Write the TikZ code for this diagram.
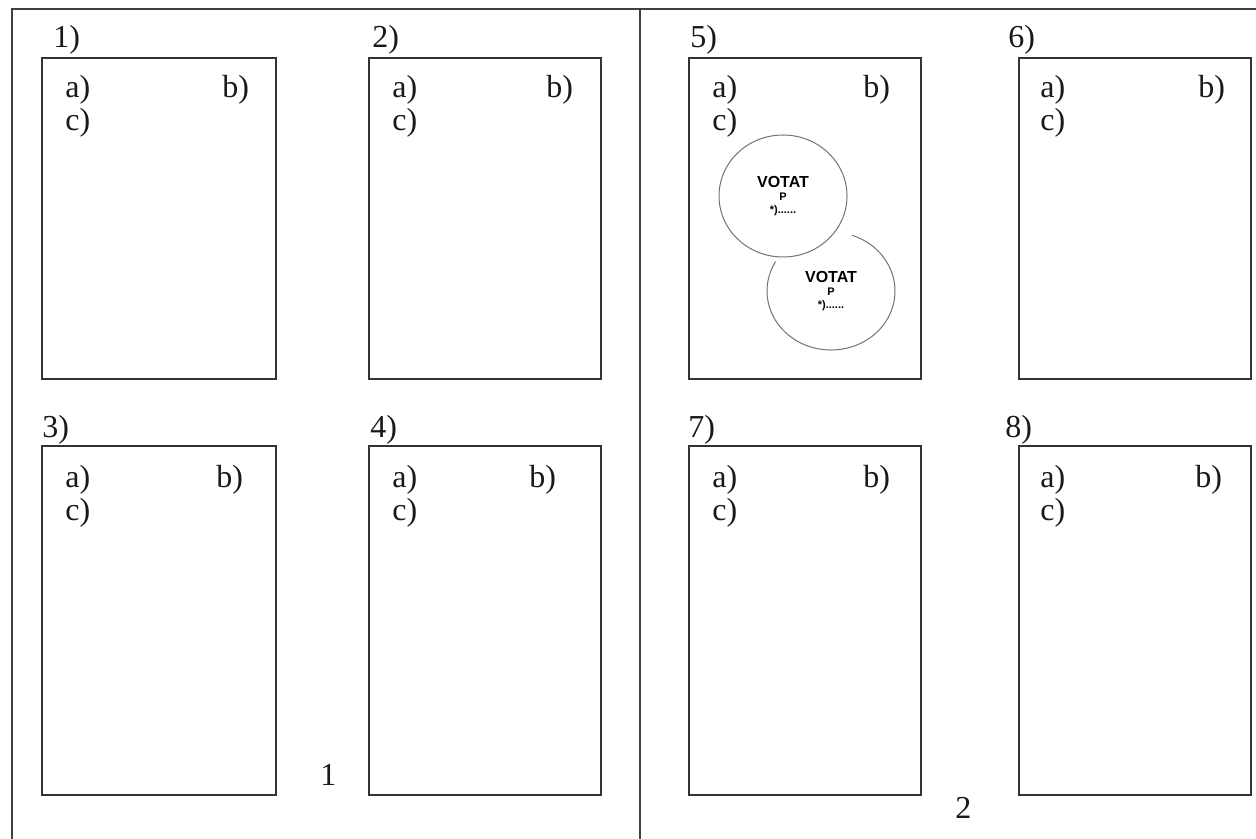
\documentclass[tikz,border=0pt]{standalone}
\usepackage{fontspec}
\setmainfont{Liberation Serif}
\newfontfamily\votfont{Liberation Sans}
\begin{document}
\begin{tikzpicture}[x=0.5pt,y=-0.5pt,
  frame/.style={line width=1pt,draw=black!75},
  panelbox/.style={line width=1pt,draw=black!80},
  lbl/.style={anchor=base west,inner sep=0pt,font=\fontsize{16}{16}\selectfont,text=black!90},
  ring/.style={draw=black!55,line width=0.5pt},
  vot/.style={inner sep=0pt,font=\votfont\bfseries\fontsize{8}{8}\selectfont},
  votsmall/.style={inner sep=0pt,font=\votfont\bfseries\fontsize{5.5}{5.5}\selectfont}]
\useasboundingbox (0,0) rectangle (1256,839);
% frame
\draw[frame] (12,839) -- (12,9) -- (1256,9);
\draw[frame] (640,9) -- (640,839);
% panel boxes
\draw[panelbox] (42,58) rectangle (276,379);
\draw[panelbox] (369,58) rectangle (601,379);
\draw[panelbox] (689,58) rectangle (921,379);
\draw[panelbox] (1019,58) rectangle (1251,379);
\draw[panelbox] (42,446) rectangle (276,795);
\draw[panelbox] (369,446) rectangle (601,795);
\draw[panelbox] (689,446) rectangle (921,795);
\draw[panelbox] (1019,446) rectangle (1251,795);
% numbers
\node[lbl] (n1) at (53,48) {1)};
\node[lbl] (n2) at (372,48) {2)};
\node[lbl] (n5) at (690,48) {5)};
\node[lbl] (n6) at (1008,48) {6)};
\node[lbl] (n3) at (42,437) {3)};
\node[lbl] (n4) at (370,437) {4)};
\node[lbl] (n7) at (688,437) {7)};
\node[lbl] (n8) at (1005,437) {8)};
% a) b) c)
\node[lbl] (a1) at (65,98) {a)};  \node[lbl] (b1) at (222,98) {b)};  \node[lbl] (c1) at (65,131) {c)};
\node[lbl] (a2) at (392,98) {a)}; \node[lbl] (b2) at (546,98) {b)};  \node[lbl] (c2) at (392,131) {c)};
\node[lbl] (a5) at (712,98) {a)}; \node[lbl] (b5) at (863,98) {b)};  \node[lbl] (c5) at (712,131) {c)};
\node[lbl] (a6) at (1040,98) {a)}; \node[lbl] (b6) at (1198,98) {b)}; \node[lbl] (c6) at (1040,131) {c)};
\node[lbl] (a3) at (65,487) {a)}; \node[lbl] (b3) at (216,487) {b)};  \node[lbl] (c3) at (65,520) {c)};
\node[lbl] (a4) at (392,487) {a)}; \node[lbl] (b4) at (529,487) {b)}; \node[lbl] (c4) at (392,520) {c)};
\node[lbl] (a7) at (712,487) {a)}; \node[lbl] (b7) at (863,487) {b)}; \node[lbl] (c7) at (712,520) {c)};
\node[lbl] (a8) at (1040,487) {a)}; \node[lbl] (b8) at (1195,487) {b)}; \node[lbl] (c8) at (1040,520) {c)};
% page numbers
\node[lbl] (p1) at (320,785) {1};
\node[lbl] (p2) at (955,818) {2};
% circles
\draw[ring] (831,291) ++(-71:64 and 59) arc[start angle=-71,end angle=210,x radius=64,y radius=59];
\draw[ring] (783,196) ellipse[x radius=64,y radius=61];
\node[vot] (v1) at (783,182) {VOTAT};
\node[votsmall] (q1) at (783,197) {P};
\node[votsmall] (s1) at (783,211) {*)......};
\node[vot] (v2) at (831,277) {VOTAT};
\node[votsmall] (q2) at (831,292) {P};
\node[votsmall] (s2) at (831,306) {*)......};
\end{tikzpicture}
\end{document}
